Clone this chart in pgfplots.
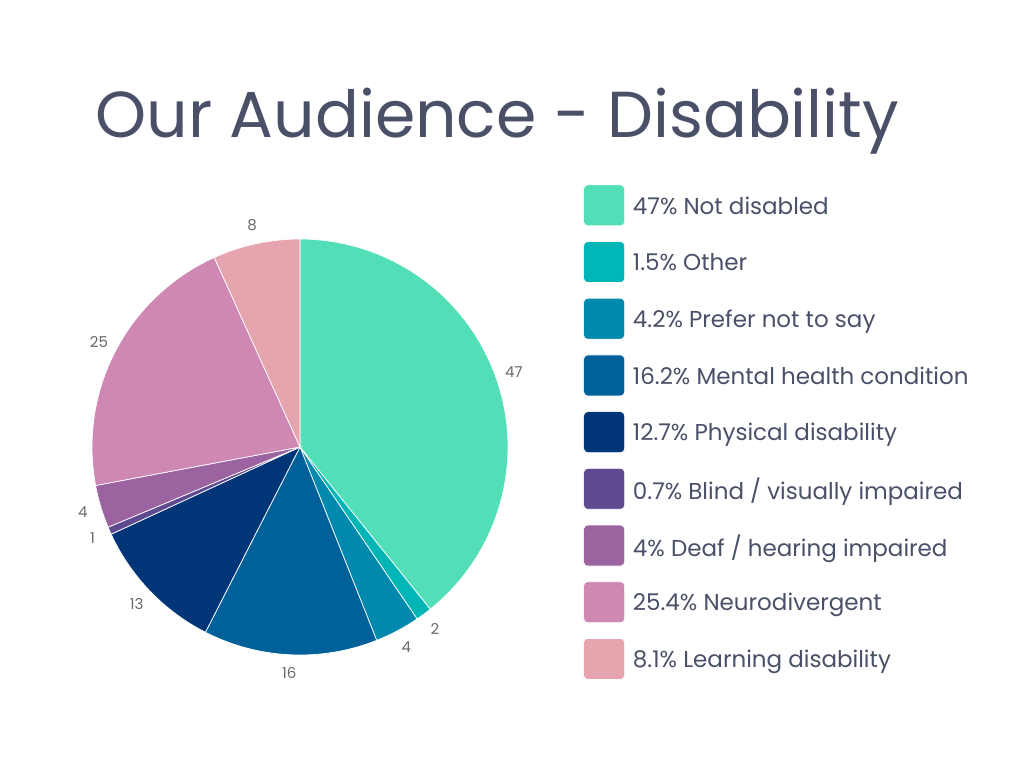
\documentclass[border=0pt]{standalone}
\usepackage{pgfplots}
\pgfplotsset{compat=1.18}
\usepackage{fontspec}
\setmainfont{Poppins}

\definecolor{titlecol}{HTML}{4A5068}
\definecolor{labgray}{HTML}{6A6A6A}
\definecolor{cNot}{HTML}{52DFB8}
\definecolor{cOther}{HTML}{00B5B5}
\definecolor{cPrefer}{HTML}{0089AD}
\definecolor{cMental}{HTML}{00619A}
\definecolor{cPhys}{HTML}{003678}
\definecolor{cBlind}{HTML}{5E4B8F}
\definecolor{cDeaf}{HTML}{9B63A0}
\definecolor{cNeuro}{HTML}{CF88B4}
\definecolor{cLearn}{HTML}{E5A4AE}

% total of all slices = 119.8, one unit = 360/119.8 degrees
\def\k{3.00501}
% #1 start (sum of previous values), #2 value, #3 colour, #4 label, #5 legend text
\newcommand{\slice}[5]{%
  \addplot[draw=white, line width=0.35pt, fill=#3, domain=#1:#1+#2, samples=80, variable=\t]
    ({cos(90-\k*\t)}, {sin(90-\k*\t)}) -- (0,0) -- cycle;
  \addlegendentry{#5}
  \node[font=\fontsize{7.5}{9}\selectfont, text=labgray]
    at ({1.09*cos(90-\k*(#1+#2/2))}, {1.09*sin(90-\k*(#1+#2/2))}) {#4};
}

\begin{document}
\begin{tikzpicture}
% 1 px of the reference = 0.5pt
\path[use as bounding box, fill=white] (0,0) rectangle (512pt,384pt);
\node[anchor=base west, inner sep=0pt, text=titlecol, font=\fontsize{32.5}{38}\selectfont]
  at (47.5pt,315.5pt) {Our Audience - Disability};
\begin{axis}[
  at={(150pt,160.5pt)}, anchor=center,
  width=208pt, height=208pt, scale only axis,
  xmin=-1, xmax=1, ymin=-1, ymax=1,
  hide axis, clip=false,
  legend style={at={(1.180,1.132)}, anchor=north west, draw=none, fill=none,
    inner sep=0pt, row sep=7.5pt,
    font=\fontsize{11.5}{13}\selectfont, text=titlecol,
    nodes={inner xsep=0pt, inner ysep=0pt, text depth=0pt}},
  legend cell align=left,
  legend image code/.code={
    \fill[#1, rounded corners=2pt] (0pt,-10.25pt) rectangle (20.5pt,10.25pt);
    \path (24.5pt,0pt);},
]
\slice{0}{47}{cNot}{47}{47\% Not disabled}
\slice{47}{1.5}{cOther}{2}{1.5\% Other}
\slice{48.5}{4.2}{cPrefer}{4}{4.2\% Prefer not to say}
\slice{52.7}{16.2}{cMental}{16}{16.2\% Mental health condition}
\slice{68.9}{12.7}{cPhys}{13}{12.7\% Physical disability}
\slice{81.6}{0.7}{cBlind}{1}{0.7\% Blind / visually impaired}
\slice{82.3}{4}{cDeaf}{4}{4\% Deaf / hearing impaired}
\slice{86.3}{25.4}{cNeuro}{25}{25.4\% Neurodivergent}
\slice{111.7}{8.1}{cLearn}{8}{8.1\% Learning disability}
\end{axis}
\end{tikzpicture}
\end{document}
